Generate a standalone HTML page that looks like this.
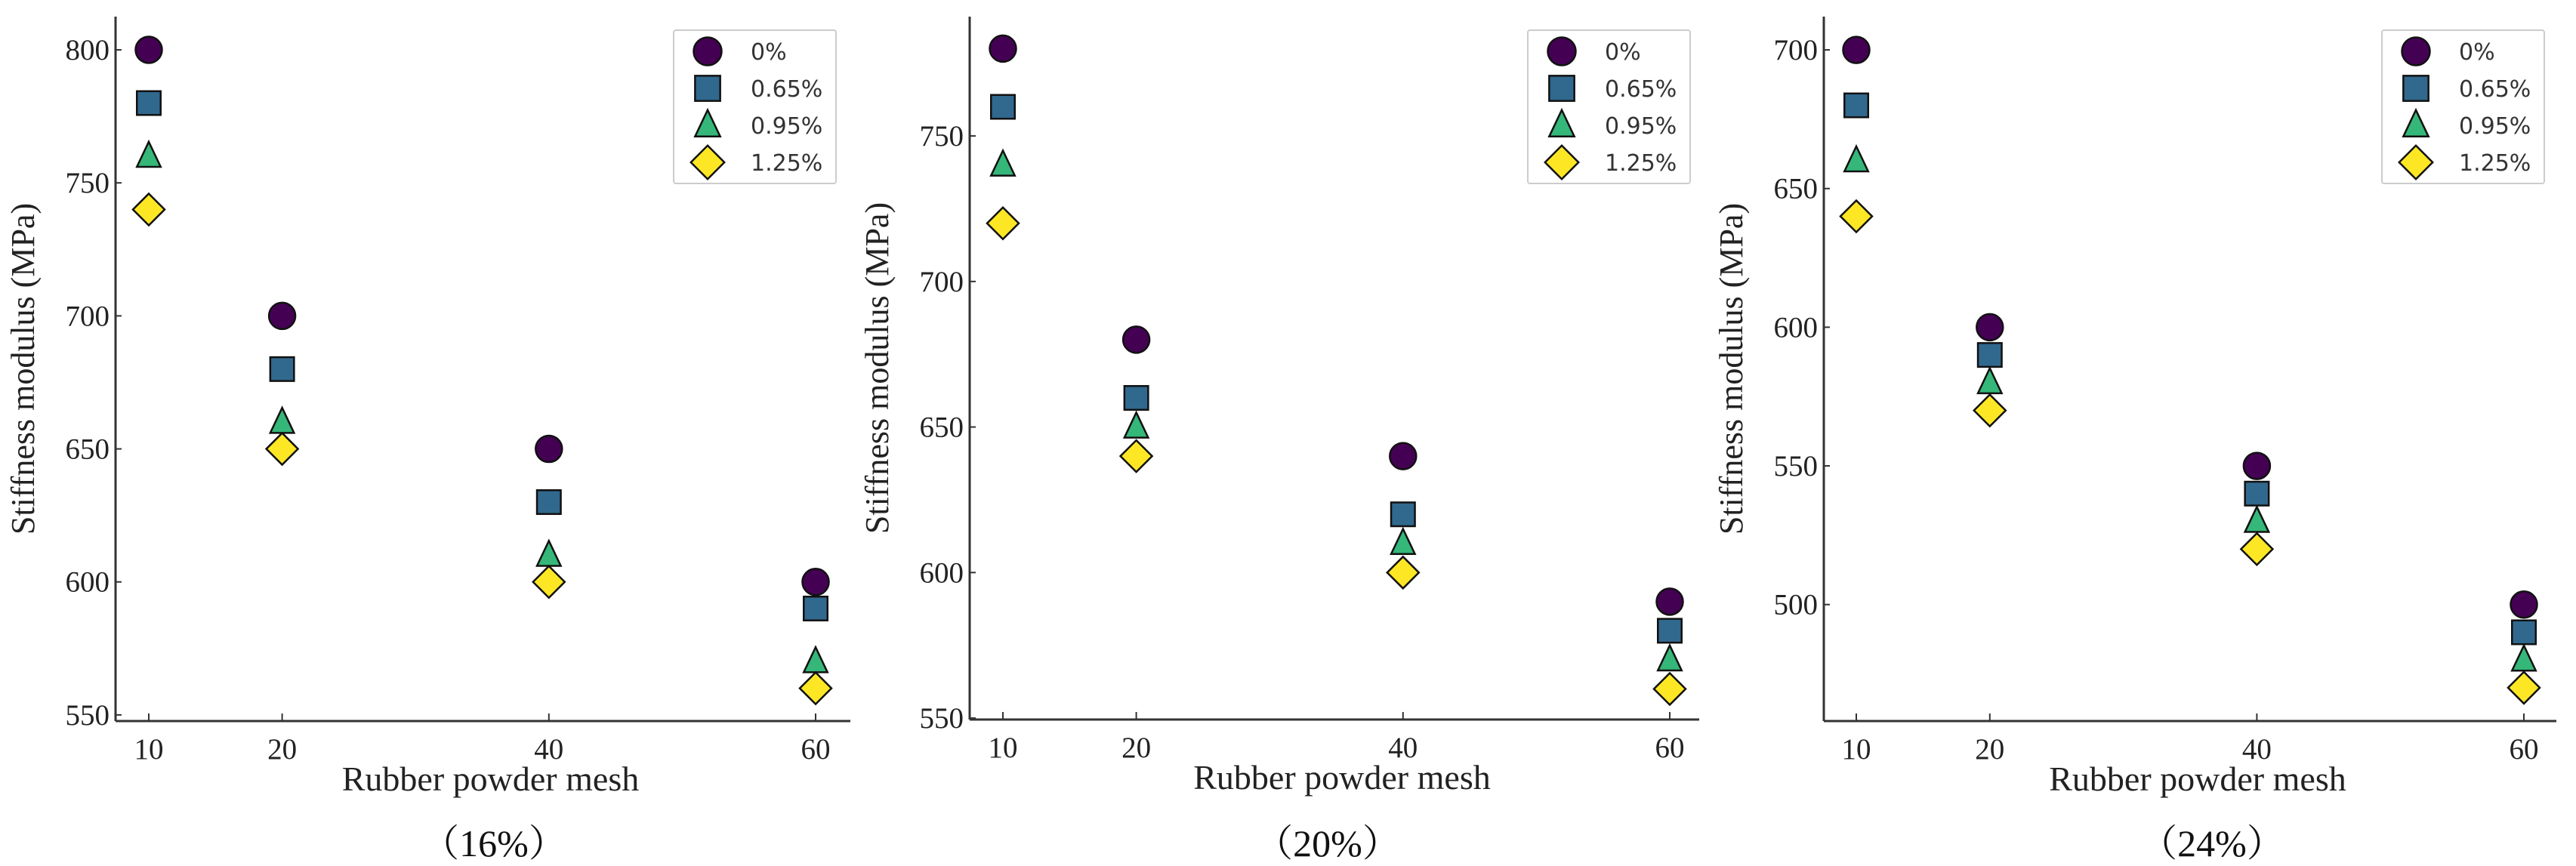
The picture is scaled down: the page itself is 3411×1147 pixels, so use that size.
<!DOCTYPE html>
<html><head><meta charset="utf-8"><style>
html,body{margin:0;padding:0;background:#fff;}
svg{display:block;}
.tick{font-family:"Liberation Serif",serif;font-size:39px;fill:#222;}
.lab{font-family:"Liberation Serif",serif;font-size:46px;fill:#222;}
.ylab{font-family:"Liberation Serif",serif;font-size:44px;fill:#222;}
.ttl{font-family:"Liberation Serif","Noto Serif CJK SC",serif;font-size:50px;fill:#111;}
.leg{font-family:"DejaVu Sans","Liberation Sans",sans-serif;font-size:30px;fill:#333;}
</style></head><body>
<svg id="chart" width="3411" height="1147" viewBox="0 0 3411 1147" xmlns="http://www.w3.org/2000/svg"></svg>
<script>
const categories=[10,20,40,60];
const seriesNames=["0%","0.65%","0.95%","1.25%"];
const p1_s0=[800,700,650,600], p1_s1=[780,680,630,590], p1_s2=[760,660,610,570], p1_s3=[740,650,600,560];
const p2_s0=[780,680,640,590], p2_s1=[760,660,620,580], p2_s2=[740,650,610,570], p2_s3=[720,640,600,560];
const p3_s0=[700,600,550,500], p3_s1=[680,590,540,490], p3_s2=[660,580,530,480], p3_s3=[640,570,520,470];
const p1_ticks=[550,600,650,700,750,800];
const p2_ticks=[550,600,650,700,750];
const p3_ticks=[500,550,600,650,700];
const panelTitles=["（16%）","（20%）","（24%）"];
const colors=["#440154","#31688e","#35b779","#fde725"];
const NS="http://www.w3.org/2000/svg";
const svg=document.getElementById('chart');
function mk(tag,attrs,parent){const e=document.createElementNS(NS,tag);for(const k in attrs)e.setAttribute(k,attrs[k]);(parent||svg).appendChild(e);return e;}
const panels=[
 {ax:153,top:22,bot:955,right:1126,x10:197,x60:1080,ymin:547.7,ymax:812.5,ticks:p1_ticks,data:[p1_s0,p1_s1,p1_s2,p1_s3],leg:[892,40,215,203],title:654},
 {ax:1284,top:22,bot:953,right:2250,x10:1328,x60:2211,ymin:549.5,ymax:791,ticks:p2_ticks,data:[p2_s0,p2_s1,p2_s2,p2_s3],leg:[2023,40,215,203],title:1758},
 {ax:2415,top:22,bot:955,right:3385,x10:2458,x60:3342,ymin:458,ymax:712,ticks:p3_ticks,data:[p3_s0,p3_s1,p3_s2,p3_s3],leg:[3154,40,215,203],title:2929}
];
function marker(g,k,cx,cy,s){
 const st={fill:colors[k],stroke:'#111','stroke-width':2.5};
 let e;
 if(k===0)e=mk('circle',Object.assign({cx:cx,cy:cy,r:s*0.5},st),g);
 else if(k===1)e=mk('rect',Object.assign({x:cx-s*0.45,y:cy-s*0.45,width:s*0.9,height:s*0.9},st),g);
 else if(k===2)e=mk('polygon',Object.assign({points:`${cx},${cy-s*0.55} ${cx+s*0.45},${cy+s*0.4} ${cx-s*0.45},${cy+s*0.4}`},st),g);
 else e=mk('polygon',Object.assign({points:`${cx},${cy-s*0.6} ${cx+s*0.6},${cy} ${cx},${cy+s*0.6} ${cx-s*0.6},${cy}`},st),g);
 return e;
}
panels.forEach((p,pi)=>{
 const g=mk('g',{});
 
 
 const xs=v=>p.x10+(v-10)*(p.x60-p.x10)/50;
 const ys=v=>p.bot-(v-p.ymin)*(p.bot-p.top)/(p.ymax-p.ymin);
 const ya=mk('line',{x1:p.ax,y1:p.top,x2:p.ax,y2:p.bot,stroke:'#333','stroke-width':3},g);
 
 
 const xa=mk('line',{x1:p.ax,y1:p.bot,x2:p.right,y2:p.bot,stroke:'#333','stroke-width':3},g);
 
 
 p.ticks.forEach(t=>{
  const y=ys(t);
  mk('line',{x1:p.ax,y1:y,x2:p.ax+8,y2:y,stroke:'#333','stroke-width':2},g);
  const tx=mk('text',{x:p.ax-8,y:y+13,'text-anchor':'end',class:'tick'},g);
  tx.textContent=t;
  
  
 });
 categories.forEach(c=>{
  const x=xs(c);
  mk('line',{x1:x,y1:p.bot,x2:x,y2:p.bot-10,stroke:'#333','stroke-width':2},g);
  const tx=mk('text',{x:x,y:p.bot+50,'text-anchor':'middle',class:'tick'},g);
  tx.textContent=c;
  
  
 });
 const xl=mk('text',{x:(p.ax+p.right)/2+10,y:p.bot+92,'text-anchor':'middle',class:'lab'},g);
 xl.textContent='Rubber powder mesh';
 
 
 const yl=mk('text',{x:0,y:0,'text-anchor':'middle',class:'ylab',transform:`translate(${p.ax-108},${(p.top+p.bot)/2}) rotate(-90)`},g);
 yl.textContent='Stiffness modulus (MPa)';
 
 
 const tt=mk('text',{x:p.title,y:1134,'text-anchor':'middle',class:'ttl'},g);
 tt.textContent=panelTitles[pi];
 
 
 p.data.forEach((arr,k)=>{
  arr.forEach((v,i)=>{
   const m=marker(g,k,xs(categories[i]),ys(v),35);
   
   
  });
 });
 const [lx,ly,lw,lh]=p.leg;
 const lg=mk('g',{},g);
 
 
 mk('rect',{x:lx,y:ly,width:lw,height:lh,fill:'#fff',stroke:'#ccc','stroke-width':2,rx:3},lg);
 seriesNames.forEach((n,k)=>{
  const cy=ly+28+k*49;
  const m=marker(lg,k,lx+45,cy,37);
  
  
  const t=mk('text',{x:lx+102,y:cy+11,class:'leg'},lg);
  t.textContent=n;
  
  
 });
});
</script>
</body></html>
